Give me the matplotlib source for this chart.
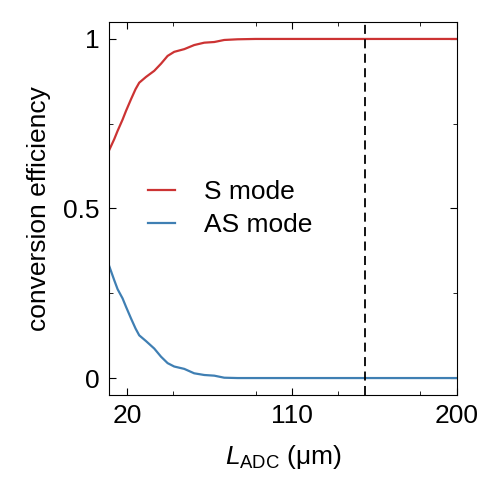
import matplotlib
matplotlib.use("Agg")
import matplotlib.pyplot as plt
from matplotlib.ticker import MultipleLocator

# values
L_adc = [10, 12.9, 14.7, 17.4, 19.3, 22.0, 24.5, 26.5, 30.2, 34.7, 38.4, 42.0,
         45.6, 51.1, 56.5, 62.0, 67.5, 72.9, 80.2, 90, 110, 130, 150, 170, 200]
s_mode = [0.671, 0.705, 0.729, 0.762, 0.788, 0.822, 0.852, 0.871, 0.888,
          0.906, 0.927, 0.950, 0.962, 0.970, 0.982, 0.989, 0.991, 0.997,
          0.999, 1.0, 1.0, 1.0, 1.0, 1.0, 1.0]
as_mode = [0.332, 0.288, 0.262, 0.235, 0.210, 0.176, 0.146, 0.126, 0.109,
           0.087, 0.063, 0.044, 0.034, 0.027, 0.014, 0.009, 0.007, 0.001,
           0.0, 0.0, 0.0, 0.0, 0.0, 0.0, 0.0]
L_mark = 150

plt.rcParams['font.family'] = ['Liberation Sans', 'DejaVu Sans']
plt.rcParams['mathtext.fontset'] = 'custom'
plt.rcParams['mathtext.it'] = 'Liberation Sans:italic'
plt.rcParams['mathtext.rm'] = 'Liberation Sans'

fs = 19

fig = plt.figure(figsize=(4.89, 4.83), dpi=100)
ax = fig.add_axes([109 / 489, 1 - 395 / 483, 348 / 489, 373 / 483])

ax.plot(L_adc, s_mode, color='#cc3333', lw=1.6, label='S mode')
ax.plot(L_adc, as_mode, color='#3f7fb3', lw=1.6, label='AS mode')
ax.axvline(L_mark, color='black', ls=(0, (5, 3)), lw=1.3)

ax.set_xlim(10, 200)
ax.set_ylim(-0.05, 1.05)
ax.set_xticks([20, 110, 200])
ax.xaxis.set_minor_locator(MultipleLocator(45))
ax.set_yticks([0, 0.5, 1])
ax.set_yticklabels(['0', '0.5', '1'])
ax.yaxis.set_minor_locator(MultipleLocator(0.25))
ax.tick_params(which='both', direction='in', top=True, right=True,
               labelsize=fs, pad=6.5)
ax.tick_params(which='major', length=5)
ax.tick_params(which='minor', length=3)

ax.set_xlabel(r'$L_{\mathrm{ADC}}$ (μm)', fontsize=fs, labelpad=11)
ax.set_ylabel('conversion efficiency', fontsize=fs, labelpad=9)

ax.legend(loc='center left', bbox_to_anchor=(0.112, 0.5), frameon=False,
          fontsize=fs, handlelength=1.02, handletextpad=1.1, labelspacing=0.35,
          borderpad=0, borderaxespad=0)

fig.savefig('out.png', dpi=100)
